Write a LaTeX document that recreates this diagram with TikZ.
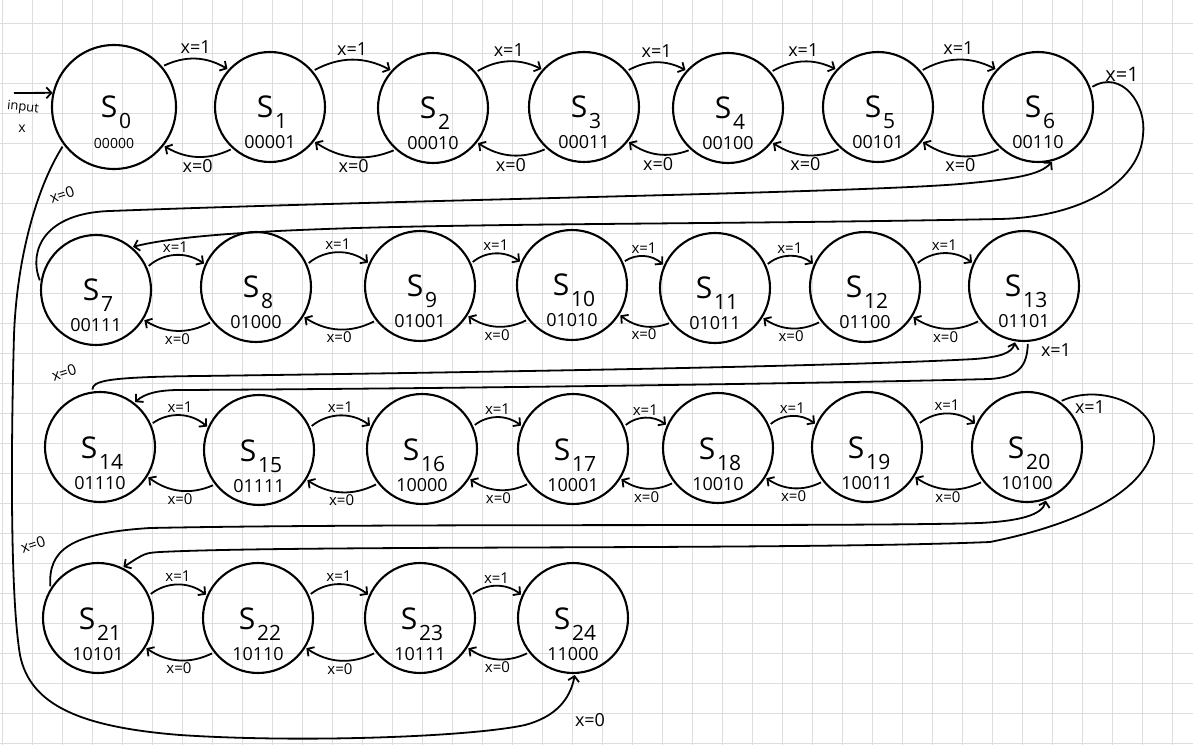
\documentclass[tikz,border=0pt]{standalone}
\usepackage{fontspec}
\setmainfont{Open Sans}
\usetikzlibrary{arrows.meta,calc}
\newcommand{\subsz}{\fontsize{21}{21}\selectfont}
\newcommand{\mkstate}[6]{%
  \node[stc, minimum size=#4pt] (#1) at (#2,#3) {};
  \node[stname] (#1n) at ($(#1)+(2,-11)$) {S\kern2pt\raisebox{-11pt}{\subsz #5}};
  \node[stcode] (#1c) at ($(#1)+(0,-42)$) {#6};}
\newcommand{\rowone}[2]{%
  \draw[edgeline] (#1.40) to[bend left=28] node[lab,above=3pt] (#1#2u) {x=1} (#2.138);
  \draw[edgeline] (#2.228) to[bend left=28] node[lab,below=1pt] (#1#2d) {x=0} (#1.-38);}
\newcommand{\rowrest}[2]{%
  \draw[edgeline] (#1.24) to[bend left=38] node[labs,above=1pt] (#1#2u) {x=1} (#2.156);
  \draw[edgeline] (#2.218) to[bend left=30] node[labs,below=1pt] (#1#2d) {x=0} (#1.-32);}
\tikzset{
  stc/.style={circle, draw, line width=2.1pt, inner sep=0pt},
  stname/.style={inner sep=0pt, anchor=base, font=\fontsize{30}{30}\selectfont},
  stcode/.style={inner sep=0pt, anchor=base, font=\fontsize{18}{18}\selectfont},
  edgeline/.style={line width=1.8pt, -{Straight Barb[length=5pt,width=11pt]}, shorten <=2pt, shorten >=1pt},
  lab/.style={inner sep=1pt, font=\fontsize{18}{18}\selectfont},
  labs/.style={inner sep=1pt, font=\fontsize{15}{15}\selectfont},
  gridline/.style={draw=black!13, line width=0.9pt},
}
\begin{document}
\begin{tikzpicture}[x=1pt,y=1pt]
\useasboundingbox (0,0) rectangle (1193,745);
\fill[white] (0,0) rectangle (1193,745);
\foreach \i in {0,...,39} \draw[gridline] ({2+30*\i},0) -- ({2+30*\i},745);
\foreach \j in {0,...,24} \draw[gridline] (0,{2+30*\j}) -- (1193,{2+30*\j});

% states
\mkstate{S0}{114}{638}{124}{0}{\fontsize{14}{14}\selectfont 00000}
\mkstate{S1}{270}{638}{110}{1}{00001}
\mkstate{S2}{433}{637}{110}{2}{00010}
\mkstate{S3}{584}{638}{110}{3}{00011}
\mkstate{S4}{728}{637}{110}{4}{00100}
\mkstate{S5}{878}{638}{110}{5}{00101}
\mkstate{S6}{1038}{638}{110}{6}{00110}
\mkstate{S7}{96}{455}{110}{7}{00111}
\mkstate{S8}{256}{458}{110}{8}{01000}
\mkstate{S9}{420}{459}{110}{9}{01001}
\mkstate{S10}{572}{460}{110}{10}{01010}
\mkstate{S11}{715}{457}{110}{11}{01011}
\mkstate{S12}{865}{458}{110}{12}{01100}
\mkstate{S13}{1024}{459}{110}{13}{01101}
\mkstate{S14}{100}{298}{110}{14}{01110}
\mkstate{S15}{259}{295}{110}{15}{01111}
\mkstate{S16}{422}{296}{110}{16}{10000}
\mkstate{S17}{573}{296}{110}{17}{10001}
\mkstate{S18}{718}{297}{110}{18}{10010}
\mkstate{S19}{867}{298}{110}{19}{10011}
\mkstate{S20}{1027}{298}{110}{20}{10100}
\mkstate{S21}{98}{127}{110}{21}{10101}
\mkstate{S22}{258}{127}{110}{22}{10110}
\mkstate{S23}{420}{127}{110}{23}{10111}
\mkstate{S24}{573}{127}{110}{24}{11000}

% input
\coordinate (inp) at (14,652);
\draw[edgeline, shorten <=0pt, shorten >=0pt] (inp) -- (S0.167);
\node[inner sep=0pt, font=\fontsize{13}{13}\selectfont, rotate=-6] (inlab) at (23,637) {input};
\node[inner sep=0pt, font=\fontsize{14}{14}\selectfont] (inx) at (22,616) {x};

% neighbour transitions
\rowone{S0}{S1}\rowone{S1}{S2}\rowone{S2}{S3}\rowone{S3}{S4}\rowone{S4}{S5}\rowone{S5}{S6}
\rowrest{S7}{S8}\rowrest{S8}{S9}\rowrest{S9}{S10}\rowrest{S10}{S11}\rowrest{S11}{S12}\rowrest{S12}{S13}
\rowrest{S14}{S15}\rowrest{S15}{S16}\rowrest{S16}{S17}\rowrest{S17}{S18}\rowrest{S18}{S19}\rowrest{S19}{S20}
\rowrest{S21}{S22}\rowrest{S22}{S23}\rowrest{S23}{S24}

% row 1 <-> row 2
\draw[edgeline] (S6.20) .. controls (1122,676) and (1147,640) .. (1143,610)
  .. controls (1140,565) and (1085,528) .. (1000,526)
  .. controls (600,518) and (240,525) .. (S7.50);
\node[lab, font=\fontsize{20}{20}\selectfont] (l67) at (1122,671) {x=1};
\draw[edgeline] (S7.172) .. controls (28,495) and (45,532) .. (110,534)
  .. controls (400,545) and (850,552) .. (960,561)
  .. controls (1015,566) and (1040,570) .. (S6.-75);
\node[labs, rotate=18] (l76) at (62,550) {x=0};

% row 2 <-> row 3
\draw[edgeline] (S13.-86) .. controls (1027,380) and (1020,368) .. (990,366)
  .. controls (800,361) and (400,356) .. (180,355)
  .. controls (160,355) and (145,352) .. (S14.52);
\node[lab] (l1314) at (1056,395) {x=1};
\draw[edgeline] (S14.98) .. controls (93,364) and (105,368) .. (200,369)
  .. controls (500,373) and (850,379) .. (975,386)
  .. controls (1000,388) and (1012,392) .. (S13.-99);
\node[labs, rotate=18] (l1413) at (64,372) {x=0};

% row 3 <-> row 4
\draw[edgeline] (S20.54) .. controls (1100,362) and (1155,340) .. (1154,305)
  .. controls (1153,265) and (1100,225) .. (990,203)
  .. controls (800,195) and (300,200) .. (160,193)
  .. controls (145,192) .. (S21.64);
\node[lab] (l2021) at (1090,338) {x=1};
\draw[edgeline] (S21.148) .. controls (48,195) and (70,212) .. (150,217)
  .. controls (400,222) and (850,218) .. (980,222)
  .. controls (1020,224) and (1042,230) .. (S20.-70);
\node[labs, rotate=18] (l2120) at (33,200) {x=0};

% S0 -> S24
\draw[edgeline] (S0.217) .. controls (38,560) and (17,490) .. (14,410)
  .. controls (11,300) and (10,150) .. (20,90)
  .. controls (30,40) and (80,18) .. (180,10)
  .. controls (300,2) and (470,8) .. (525,20)
  .. controls (555,28) and (570,45) .. (S24.-88);
\node[lab] (l024) at (590,25) {x=0};
\end{tikzpicture}
\end{document}
